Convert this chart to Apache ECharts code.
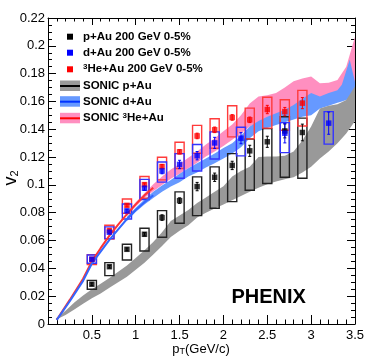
<!DOCTYPE html>
<html><head><meta charset="utf-8">
<script src="https://cdn.jsdelivr.net/npm/echarts@6/dist/echarts.min.js"></script>
<style>html,body{margin:0;padding:0;background:#fff}#c{width:374px;height:361px}</style>
</head><body><div id="c"></div>
<script>
// ---- data: measured points ----
const pT_pAu = [0.5,0.7,0.9,1.1,1.3,1.5,1.7,1.9,2.1,2.3,2.5,2.7,2.9];
const v2_pAu = [0.0286,0.0412,0.0537,0.0645,0.0765,0.0887,0.0988,0.1055,0.114,0.1245,0.131,0.1388,0.1377];
const stat_pAu = [0.001,0.001,0.001,0.0012,0.002,0.002,0.003,0.003,0.003,0.004,0.004,0.005,0.006];
const sysLo_pAu = [0.025,0.0348,0.046,0.0525,0.0624,0.0724,0.0779,0.0832,0.088,0.0962,0.101,0.1055,0.1048];
const sysHi_pAu = [0.0314,0.0441,0.0573,0.0688,0.0815,0.0950,0.1058,0.1130,0.1225,0.1330,0.1405,0.1490,0.1480];

const pT_dAu = [0.5,0.7,0.9,1.1,1.3,1.5,1.7,1.9,2.2,2.7,3.2];
const v2_dAu = [0.0466,0.0660,0.0813,0.0976,0.1100,0.1147,0.1210,0.1302,0.1336,0.1372,0.1444];
const stat_dAu = [0.001,0.001,0.0012,0.0015,0.002,0.003,0.003,0.004,0.004,0.007,0.008];
const sysLo_dAu = [0.0437,0.0614,0.0755,0.0895,0.1020,0.1048,0.1100,0.1186,0.1209,0.1232,0.1293];
const sysHi_dAu = [0.0496,0.0698,0.0863,0.1040,0.1165,0.1225,0.1290,0.1381,0.1415,0.1448,0.1527];

const pT_HeAu = [0.5,0.7,0.9,1.1,1.3,1.5,1.7,1.9,2.1,2.3,2.5,2.7,2.9];
const v2_HeAu = [0.0465,0.0672,0.0853,0.1002,0.1132,0.1238,0.1352,0.1396,0.1485,0.1468,0.1542,0.1527,0.1588];
const stat_HeAu = [0.001,0.001,0.001,0.0012,0.0015,0.0015,0.002,0.002,0.002,0.002,0.003,0.003,0.004];
const sysLo_HeAu = [0.0428,0.0611,0.0796,0.0904,0.1036,0.1118,0.1228,0.1264,0.1345,0.1331,0.1408,0.1393,0.1424];
const sysHi_HeAu = [0.0499,0.0710,0.0899,0.1060,0.1199,0.1307,0.1428,0.1476,0.1569,0.1552,0.1630,0.1612,0.1680];

// ---- data: SONIC calculations ----
const band_pT_pAu = [0.09,0.2,0.3,0.4,0.5,0.6,0.7,0.8,0.9,1.0,1.1,1.2,1.3,1.4,1.5,1.6,1.7,1.8,1.9,2.0,2.1,2.2,2.3,2.4,2.5,2.6,2.7,2.8,2.9,3.0,3.1,3.2,3.3,3.4,3.5];
const band_lo_pAu = [0.003,0.0065,0.0105,0.0145,0.0185,0.022,0.026,0.030,0.034,0.039,0.044,0.050,0.056,0.0625,0.067,0.071,0.0765,0.080,0.083,0.086,0.089,0.092,0.095,0.098,0.1005,0.1025,0.104,0.1055,0.109,0.113,0.119,0.124,0.130,0.137,0.146];
const band_hi_pAu = [0.004,0.0095,0.0155,0.0205,0.025,0.029,0.033,0.0375,0.042,0.0475,0.053,0.059,0.066,0.074,0.078,0.082,0.087,0.091,0.095,0.099,0.106,0.110,0.113,0.120,0.1205,0.1205,0.121,0.124,0.132,0.142,0.155,0.157,0.158,0.161,0.171];

const band_pT_dAu = [0.9,1.0,1.1,1.2,1.3,1.4,1.5,1.6,1.7,1.8,1.9,2.0,2.1,2.2,2.3,2.4,2.5,2.6,2.7,2.8,2.9,3.0,3.1,3.2,3.3,3.35,3.44,3.5];
const band_lo_dAu = [0.074,0.0805,0.086,0.0905,0.095,0.0988,0.102,0.106,0.109,0.1125,0.1155,0.119,0.1225,0.127,0.1335,0.1385,0.141,0.143,0.145,0.147,0.149,0.150,0.155,0.157,0.159,0.160,0.162,0.170];
const band_hi_dAu = [0.077,0.0835,0.0895,0.095,0.0995,0.1036,0.108,0.112,0.1155,0.119,0.1225,0.1265,0.130,0.1355,0.142,0.146,0.149,0.1515,0.154,0.1575,0.162,0.166,0.1635,0.166,0.168,0.172,0.190,0.174];

const band_pT_HeAu = [0.9,1.0,1.1,1.2,1.3,1.4,1.5,1.6,1.7,1.8,1.9,2.0,2.1,2.2,2.3,2.4,2.5,2.6,2.7,2.8,2.9,3.0,3.1,3.2,3.3,3.4,3.5];
const band_lo_HeAu = [0.0775,0.0845,0.0905,0.0955,0.100,0.1045,0.108,0.112,0.116,0.1205,0.124,0.128,0.1325,0.137,0.142,0.145,0.147,0.149,0.151,0.153,0.155,0.157,0.159,0.161,0.163,0.166,0.170];
const band_hi_HeAu = [0.080,0.0875,0.094,0.1005,0.106,0.111,0.115,0.1195,0.124,0.129,0.1335,0.1385,0.1435,0.150,0.1585,0.1635,0.1645,0.166,0.170,0.1745,0.1765,0.178,0.173,0.1735,0.1755,0.185,0.2065];

const line_pT = [0.1,0.25,0.4,0.5,0.6,0.7,0.8,0.9,1.0,1.1,1.2];
const line_dAu = [0.003,0.0165,0.031,0.0435,0.052,0.0605,0.068,0.0755,0.082,0.0875,0.0925];
const line_HeAu = [0.003,0.0175,0.0325,0.045,0.0545,0.0635,0.0715,0.079,0.086,0.0925,0.098];

// ---- axis ----
const xMin = 0, xMax = 3.5, xStep = 0.5;
const yMin = 0, yMax = 0.22, yStep = 0.02;

const FONT = '"Liberation Sans", Arial, Helvetica, sans-serif';
const C_GRAY = '#999999', C_BLUE_BAND = '#6699ff', C_PINK_BAND = '#ff8fc0';
const C_BLUE_LINE = '#3366ff', C_RED_LINE = '#ff3333';
const LEG_FONT = 'bold 11.5px ' + FONT;
const LEG_SUP = 'bold 8px ' + FONT;

const chart = echarts.init(document.getElementById('c'), null, {renderer:'canvas'});

function bandSeries(xs, lo, hi, color) {
  return {
    type: 'custom', xAxisIndex: 0, yAxisIndex: 0, silent: true,
    data: [[xs[0], lo[0]]],
    renderItem: function (params, api) {
      const pts = [];
      for (let i = 0; i < xs.length; i++) pts.push(api.coord([xs[i], hi[i]]));
      for (let i = xs.length - 1; i >= 0; i--) pts.push(api.coord([xs[i], lo[i]]));
      return { type: 'polygon', shape: { points: pts }, style: { fill: color, stroke: null } };
    }
  };
}
function boxSeries(xs, lo, hi, color) {
  return {
    type: 'custom', silent: true,
    data: xs.map((x, i) => [x, lo[i], hi[i]]),
    renderItem: function (params, api) {
      const x = api.value(0);
      const a = api.coord([x - 0.052, api.value(2)]);
      const b = api.coord([x + 0.052, api.value(1)]);
      return { type: 'rect', shape: { x: a[0], y: a[1], width: b[0] - a[0], height: b[1] - a[1] },
        style: { fill: 'none', stroke: color, lineWidth: 1.4 } };
    }
  };
}
function errSeries(xs, v, e, color) {
  return {
    type: 'custom', silent: true,
    data: xs.map((x, i) => [x, v[i] - e[i], v[i] + e[i]]),
    renderItem: function (params, api) {
      const lo = api.coord([api.value(0), api.value(1)]);
      const hi = api.coord([api.value(0), api.value(2)]);
      return { type: 'group', children: [
        { type: 'line', shape: { x1: lo[0], y1: lo[1], x2: hi[0], y2: hi[1] }, style: { stroke: color, lineWidth: 1 } },
        { type: 'line', shape: { x1: lo[0]-1.5, y1: lo[1], x2: lo[0]+1.5, y2: lo[1] }, style: { stroke: color, lineWidth: 1 } },
        { type: 'line', shape: { x1: hi[0]-1.5, y1: hi[1], x2: hi[0]+1.5, y2: hi[1] }, style: { stroke: color, lineWidth: 1 } }
      ]};
    }
  };
}
function pointSeries(xs, v, color) {
  return { type: 'scatter', symbol: 'rect', symbolSize: 5.5, silent: true,
    itemStyle: { color: color }, data: xs.map((x, i) => [x, v[i]]), z: 5 };
}
function lineSeries(xs, v, color) {
  return { type: 'line', silent: true, symbol: 'none', smooth: false,
    lineStyle: { color: color, width: 2 }, data: xs.map((x, i) => [x, v[i]]), z: 3 };
}

const axisCommonX = {
  type: 'value', min: xMin, max: xMax, interval: xStep,
  axisLine: { show: true, onZero: false, lineStyle: { color: '#000', width: 1 } },
  axisTick: { show: true, inside: true, length: 9, lineStyle: { color: '#000' } },
  minorTick: { show: true, splitNumber: 5, length: 4.5, lineStyle: { color: '#000' } },
  splitLine: { show: false }
};
const axisCommonY = {
  type: 'value', min: yMin, max: yMax, interval: yStep,
  axisLine: { show: true, onZero: false, lineStyle: { color: '#000', width: 1 } },
  axisTick: { show: true, inside: true, length: 8, lineStyle: { color: '#000' } },
  minorTick: { show: true, splitNumber: 4, length: 4, lineStyle: { color: '#000' } },
  splitLine: { show: false }
};

const legendRows = [36.7, 52.7, 69.3, 86, 101.7, 118.3];
const legendTextX = 83;
const graphics = [
  { type: 'rect', shape: { x: 67, y: legendRows[0]-3, width: 6, height: 6 }, style: { fill: '#000' } },
  { type: 'rect', shape: { x: 67, y: legendRows[1]-3, width: 6, height: 6 }, style: { fill: '#0000ff' } },
  { type: 'rect', shape: { x: 67, y: legendRows[2]-3, width: 6, height: 6 }, style: { fill: '#ff0000' } },
  { type: 'text', x: legendTextX, y: legendRows[0], style: { text: 'p+Au 200 GeV 0-5%', font: LEG_FONT, fill: '#000', verticalAlign: 'middle' } },
  { type: 'text', x: legendTextX, y: legendRows[1], style: { text: 'd+Au 200 GeV 0-5%', font: LEG_FONT, fill: '#000', verticalAlign: 'middle' } },
  { type: 'text', x: legendTextX, y: legendRows[2], style: { text: '{sup|3}{n|He+Au 200 GeV 0-5%}', verticalAlign: 'middle',
      rich: { sup: { font: LEG_SUP, fill: '#000', verticalAlign: 'top', padding: [0,0,6,0] }, n: { font: LEG_FONT, fill: '#000' } } } },
  { type: 'rect', shape: { x: 60, y: legendRows[3]-5.5, width: 20, height: 10.5 }, style: { fill: C_GRAY } },
  { type: 'line', shape: { x1: 60, y1: legendRows[3], x2: 80, y2: legendRows[3] }, style: { stroke: '#000', lineWidth: 2 } },
  { type: 'rect', shape: { x: 60, y: legendRows[4]-5.5, width: 20, height: 10.5 }, style: { fill: C_BLUE_BAND } },
  { type: 'line', shape: { x1: 60, y1: legendRows[4], x2: 80, y2: legendRows[4] }, style: { stroke: '#0033ff', lineWidth: 2 } },
  { type: 'rect', shape: { x: 60, y: legendRows[5]-5.5, width: 20, height: 10.5 }, style: { fill: C_PINK_BAND } },
  { type: 'line', shape: { x1: 60, y1: legendRows[5], x2: 80, y2: legendRows[5] }, style: { stroke: '#ff0000', lineWidth: 2 } },
  { type: 'text', x: legendTextX, y: legendRows[3], style: { text: 'SONIC p+Au', font: LEG_FONT, fill: '#000', verticalAlign: 'middle' } },
  { type: 'text', x: legendTextX, y: legendRows[4], style: { text: 'SONIC d+Au', font: LEG_FONT, fill: '#000', verticalAlign: 'middle' } },
  { type: 'text', x: legendTextX, y: legendRows[5], style: { text: '{n|SONIC }{sup|3}{n|He+Au}', verticalAlign: 'middle',
      rich: { sup: { font: LEG_SUP, fill: '#000', verticalAlign: 'top', padding: [0,0,6,0] }, n: { font: LEG_FONT, fill: '#000' } } } },
  { type: 'text', x: 231.5, y: 297, style: { text: 'PHENIX', font: 'bold 20px ' + FONT, fill: '#000', verticalAlign: 'middle' } },
  { type: 'text', x: 201, y: 349, style: { text: '{n|p}{s|T}{n|(GeV/c)}', align: 'center', verticalAlign: 'middle',
      rich: { n: { font: '13px ' + FONT, fill: '#000' }, s: { font: '9px ' + FONT, fill: '#000', padding: [6,0,0,0] } } } },
  { type: 'text', x: 11, y: 178, rotation: Math.PI/2, style: { text: '{n|v}{s|2}', align: 'center', verticalAlign: 'middle',
      rich: { n: { font: '18px ' + FONT, fill: '#000' }, s: { font: '11px ' + FONT, fill: '#000', padding: [8,0,0,0] } } } }
];

chart.setOption({
  animation: false,
  backgroundColor: '#fff',
  grid: { left: 48, right: 19, top: 18, bottom: 37, containLabel: false },
  xAxis: [
    Object.assign({}, axisCommonX, { position: 'bottom',
      axisLabel: { show: true, color: '#000', fontSize: 13, fontFamily: FONT, margin: 5,
        formatter: v => (v === 0 ? '' : String(v)) } }),
    Object.assign({}, axisCommonX, { position: 'top', axisLabel: { show: false },
      axisTick: { show: true, inside: true, length: 7, lineStyle: { color: '#000' } },
      minorTick: { show: true, splitNumber: 5, length: 3.5, lineStyle: { color: '#000' } } })
  ],
  yAxis: [
    Object.assign({}, axisCommonY, { position: 'left',
      axisLabel: { show: true, color: '#000', fontSize: 13, fontFamily: FONT, margin: 3,
        formatter: v => String(+v.toFixed(2)) } }),
    Object.assign({}, axisCommonY, { position: 'right', axisLabel: { show: false } })
  ],
  graphic: graphics,
  series: [
    bandSeries(band_pT_HeAu, band_lo_HeAu, band_hi_HeAu, C_PINK_BAND),
    bandSeries(band_pT_dAu, band_lo_dAu, band_hi_dAu, C_BLUE_BAND),
    bandSeries(band_pT_pAu, band_lo_pAu, band_hi_pAu, C_GRAY),
    lineSeries(line_pT, line_HeAu, C_RED_LINE),
    lineSeries(line_pT, line_dAu, C_BLUE_LINE),
    boxSeries(pT_pAu, sysLo_pAu, sysHi_pAu, '#222222'),
    boxSeries(pT_HeAu, sysLo_HeAu, sysHi_HeAu, '#ff3b3b'),
    boxSeries(pT_dAu, sysLo_dAu, sysHi_dAu, '#3333ff'),
    errSeries(pT_pAu, v2_pAu, stat_pAu, '#000'),
    errSeries(pT_HeAu, v2_HeAu, stat_HeAu, '#ff0000'),
    errSeries(pT_dAu, v2_dAu, stat_dAu, '#0000ff'),
    pointSeries(pT_pAu, v2_pAu, '#000'),
    pointSeries(pT_HeAu, v2_HeAu, '#ff0000'),
    pointSeries(pT_dAu, v2_dAu, '#0000ff')
  ]
});
</script></body></html>
